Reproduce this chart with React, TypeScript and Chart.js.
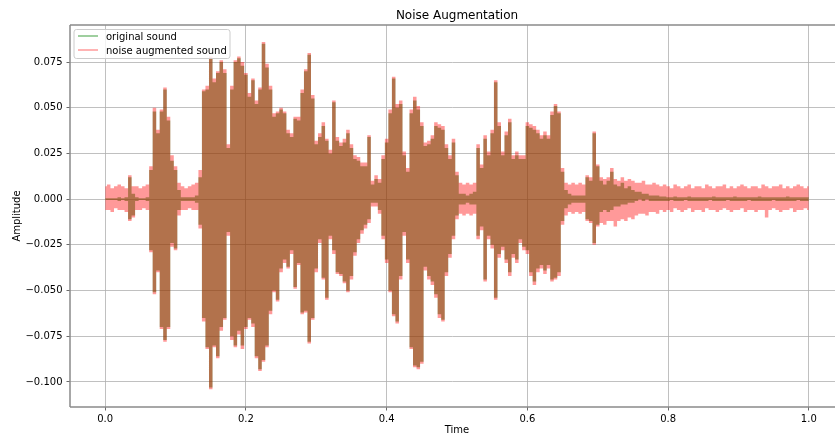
import { useEffect, useRef } from "react";
import { Chart, registerables } from "chart.js";

Chart.register(...registerables);

// Envelope of each waveform, one sample every SAMPLE_STEP of time (0 .. 1.0)
const SAMPLE_STEP = 0.005;

const originalUpper = [
  0.0005, 0.0005, 0.0005, 0.0005, 0.001, 0.0005, 0.001, 0.012, 0.003, 0.001,
  0.0005, 0.0005, 0.001, 0.016, 0.048, 0.036, 0.048, 0.060, 0.043, 0.021,
  0.016, 0.005, 0.001, 0.001, 0.001, 0.001, 0.002, 0.012, 0.059, 0.060,
  0.077, 0.064, 0.069, 0.075, 0.069, 0.028, 0.060, 0.075, 0.077, 0.073,
  0.068, 0.056, 0.065, 0.052, 0.060, 0.085, 0.072, 0.060, 0.045, 0.047,
  0.049, 0.047, 0.036, 0.034, 0.044, 0.043, 0.058, 0.070, 0.079, 0.055,
  0.030, 0.034, 0.040, 0.032, 0.025, 0.053, 0.032, 0.029, 0.031, 0.036,
  0.028, 0.022, 0.021, 0.018, 0.018, 0.034, 0.008, 0.011, 0.009, 0.022,
  0.031, 0.047, 0.066, 0.050, 0.052, 0.024, 0.015, 0.047, 0.054, 0.049,
  0.040, 0.029, 0.030, 0.033, 0.040, 0.039, 0.038, 0.028, 0.022, 0.031,
  0.013, 0.003, 0.003, 0.002, 0.003, 0.004, 0.028, 0.017, 0.033, 0.024,
  0.036, 0.064, 0.040, 0.024, 0.035, 0.042, 0.022, 0.024, 0.022, 0.022,
  0.040, 0.039, 0.038, 0.036, 0.033, 0.035, 0.033, 0.046, 0.051, 0.047,
  0.015, 0.005, 0.003, 0.002, 0.002, 0.002, 0.002, 0.012, 0.010, 0.036,
  0.018, 0.010, 0.008, 0.010, 0.015, 0.008, 0.007, 0.009, 0.006, 0.007,
  0.005, 0.004, 0.004, 0.003, 0.003, 0.002, 0.002, 0.002, 0.0015, 0.0015,
  0.001, 0.001, 0.0015, 0.001, 0.001, 0.001, 0.0015, 0.001, 0.001, 0.001,
  0.001, 0.001, 0.001, 0.0015, 0.001, 0.001, 0.001, 0.001, 0.001, 0.0015,
  0.001, 0.001, 0.001, 0.001, 0.001, 0.001, 0.0015, 0.001, 0.001, 0.001,
  0.001, 0.001, 0.001, 0.001, 0.0015, 0.001, 0.001, 0.001, 0.001, 0.001,
  0.001,
];

const originalLower = [
  -0.0005, -0.0005, -0.0005, -0.0005, -0.001, -0.0005, -0.001, -0.011, -0.009, -0.001,
  -0.0005, -0.0005, -0.001, -0.028, -0.051, -0.039, -0.070, -0.077, -0.070, -0.024,
  -0.027, -0.006, -0.001, -0.001, -0.001, -0.001, -0.002, -0.014, -0.065, -0.081,
  -0.103, -0.080, -0.086, -0.070, -0.065, -0.018, -0.075, -0.080, -0.072, -0.080,
  -0.070, -0.065, -0.068, -0.086, -0.093, -0.088, -0.080, -0.061, -0.050, -0.055,
  -0.038, -0.033, -0.037, -0.028, -0.048, -0.035, -0.062, -0.061, -0.078, -0.065,
  -0.038, -0.022, -0.043, -0.054, -0.020, -0.028, -0.040, -0.041, -0.045, -0.050,
  -0.042, -0.029, -0.022, -0.017, -0.014, -0.011, -0.002, -0.002, -0.006, -0.020,
  -0.033, -0.050, -0.063, -0.067, -0.042, -0.018, -0.033, -0.081, -0.091, -0.092,
  -0.089, -0.037, -0.042, -0.045, -0.052, -0.063, -0.066, -0.040, -0.030, -0.020,
  -0.009, -0.003, -0.003, -0.002, -0.003, -0.003, -0.020, -0.015, -0.044, -0.020,
  -0.025, -0.054, -0.030, -0.026, -0.033, -0.040, -0.030, -0.033, -0.022, -0.026,
  -0.028, -0.040, -0.045, -0.038, -0.036, -0.039, -0.036, -0.044, -0.043, -0.040,
  -0.012, -0.005, -0.003, -0.002, -0.002, -0.002, -0.002, -0.011, -0.012, -0.024,
  -0.014, -0.007, -0.006, -0.007, -0.006, -0.004, -0.004, -0.003, -0.003, -0.002,
  -0.002, -0.001, 0, -0.001, 0, -0.001, -0.001, -0.001, -0.001, -0.001,
  -0.001, -0.0005, -0.001, -0.001, -0.001, -0.0005, -0.001, -0.001, -0.001, -0.001,
  -0.001, -0.001, -0.0005, -0.001, -0.001, -0.001, -0.001, -0.0005, -0.001, -0.001,
  -0.001, -0.001, -0.001, -0.0005, -0.001, -0.001, -0.001, -0.001, -0.001, -0.001,
  -0.0005, -0.001, -0.001, -0.001, -0.001, -0.001, -0.001, -0.0005, -0.001, -0.001,
  -0.001,
];

const noiseUpper = [
  0.007, 0.008, 0.006, 0.007, 0.008, 0.007, 0.006, 0.013, 0.007, 0.007,
  0.006, 0.007, 0.008, 0.018, 0.050, 0.038, 0.049, 0.061, 0.045, 0.024,
  0.018, 0.009, 0.007, 0.006, 0.007, 0.008, 0.009, 0.016, 0.060, 0.062,
  0.078, 0.066, 0.070, 0.076, 0.071, 0.030, 0.062, 0.076, 0.078, 0.075,
  0.069, 0.058, 0.066, 0.054, 0.061, 0.086, 0.074, 0.062, 0.047, 0.048,
  0.050, 0.048, 0.038, 0.036, 0.045, 0.045, 0.060, 0.071, 0.080, 0.057,
  0.032, 0.036, 0.042, 0.033, 0.027, 0.054, 0.034, 0.031, 0.033, 0.038,
  0.030, 0.024, 0.023, 0.020, 0.020, 0.035, 0.010, 0.013, 0.011, 0.024,
  0.033, 0.049, 0.067, 0.052, 0.054, 0.026, 0.017, 0.049, 0.056, 0.051,
  0.042, 0.031, 0.032, 0.035, 0.042, 0.041, 0.040, 0.030, 0.024, 0.033,
  0.015, 0.009, 0.008, 0.009, 0.008, 0.009, 0.030, 0.019, 0.035, 0.026,
  0.038, 0.065, 0.042, 0.026, 0.037, 0.044, 0.024, 0.026, 0.024, 0.024,
  0.042, 0.041, 0.040, 0.038, 0.035, 0.037, 0.035, 0.048, 0.052, 0.048,
  0.017, 0.009, 0.008, 0.009, 0.008, 0.009, 0.008, 0.013, 0.012, 0.037,
  0.019, 0.012, 0.011, 0.012, 0.017, 0.011, 0.010, 0.012, 0.010, 0.011,
  0.010, 0.009, 0.009, 0.010, 0.008, 0.008, 0.009, 0.008, 0.007, 0.008,
  0.007, 0.006, 0.008, 0.007, 0.006, 0.007, 0.008, 0.006, 0.007, 0.007,
  0.006, 0.008, 0.007, 0.006, 0.007, 0.007, 0.008, 0.006, 0.007, 0.006,
  0.007, 0.008, 0.007, 0.006, 0.007, 0.007, 0.006, 0.008, 0.007, 0.006,
  0.007, 0.007, 0.008, 0.006, 0.007, 0.006, 0.007, 0.008, 0.007, 0.006,
  0.007,
];

const noiseLower = [
  -0.006, -0.006, -0.007, -0.005, -0.006, -0.006, -0.007, -0.012, -0.010, -0.006,
  -0.006, -0.005, -0.006, -0.029, -0.052, -0.040, -0.071, -0.078, -0.071, -0.026,
  -0.028, -0.009, -0.006, -0.006, -0.005, -0.006, -0.006, -0.016, -0.067, -0.082,
  -0.104, -0.081, -0.087, -0.072, -0.066, -0.020, -0.077, -0.081, -0.074, -0.082,
  -0.071, -0.066, -0.070, -0.087, -0.094, -0.089, -0.081, -0.063, -0.051, -0.056,
  -0.040, -0.035, -0.038, -0.030, -0.049, -0.036, -0.063, -0.062, -0.079, -0.066,
  -0.040, -0.024, -0.044, -0.055, -0.022, -0.030, -0.041, -0.042, -0.046, -0.051,
  -0.044, -0.031, -0.024, -0.019, -0.016, -0.013, -0.004, -0.004, -0.008, -0.022,
  -0.035, -0.051, -0.064, -0.068, -0.044, -0.020, -0.035, -0.082, -0.092, -0.093,
  -0.090, -0.039, -0.044, -0.047, -0.054, -0.065, -0.067, -0.042, -0.032, -0.022,
  -0.011, -0.008, -0.009, -0.008, -0.009, -0.008, -0.022, -0.017, -0.045, -0.022,
  -0.027, -0.055, -0.032, -0.028, -0.035, -0.042, -0.032, -0.035, -0.024, -0.028,
  -0.030, -0.042, -0.047, -0.040, -0.038, -0.041, -0.038, -0.045, -0.044, -0.042,
  -0.014, -0.009, -0.007, -0.008, -0.007, -0.008, -0.007, -0.012, -0.013, -0.025,
  -0.015, -0.013, -0.014, -0.012, -0.012, -0.015, -0.012, -0.011, -0.012, -0.010,
  -0.011, -0.009, -0.008, -0.008, -0.009, -0.007, -0.007, -0.008, -0.006, -0.007,
  -0.006, -0.007, -0.005, -0.006, -0.007, -0.006, -0.005, -0.007, -0.006, -0.006,
  -0.007, -0.005, -0.006, -0.006, -0.007, -0.006, -0.005, -0.006, -0.007, -0.006,
  -0.006, -0.005, -0.007, -0.006, -0.006, -0.007, -0.006, -0.006, -0.010, -0.006,
  -0.005, -0.006, -0.007, -0.006, -0.006, -0.005, -0.007, -0.006, -0.006, -0.005,
  -0.006,
];

const seriesNames = ["original sound", "noise augmented sound"];
const timeTicks = [0, 0.2, 0.4, 0.6, 0.8, 1.0];
const amplitudeTicks = [-0.1, -0.075, -0.05, -0.025, 0, 0.025, 0.05, 0.075];
const TITLE = "Noise Augmentation";
const X_LABEL = "Time";
const Y_LABEL = "Amplitude";

const X_MIN = -0.05;
const X_MAX = 1.0372;
const Y_MIN = -0.1137;
const Y_MAX = 0.09525;

const ORIGINAL_COLOR = "rgba(0,128,0,0.5)";
const NOISE_COLOR = "rgba(255,0,0,0.4)";
const FONT = '"DejaVu Sans", sans-serif';

const toPoints = (arr: number[]) =>
  arr.map((v, i) => ({ x: Math.round(i * SAMPLE_STEP * 10000) / 10000, y: v }));

const minus = (s: string) => s.replace("-", "\u2212");

const decorPlugin = {
  id: "decor",
  afterDraw(chart: any) {
    const { ctx, chartArea, scales } = chart;
    const xs = scales.x;
    const cx = xs.getPixelForValue(0.5);
    ctx.save();
    // spines
    ctx.strokeStyle = "#8a8a8a";
    ctx.lineWidth = 1.5;
    ctx.beginPath();
    ctx.moveTo(chartArea.left, chartArea.top);
    ctx.lineTo(chartArea.left, chartArea.bottom);
    ctx.moveTo(chartArea.left, chartArea.bottom);
    ctx.lineTo(chartArea.right, chartArea.bottom);
    ctx.moveTo(chartArea.left, chartArea.top);
    ctx.lineTo(chartArea.right, chartArea.top);
    ctx.stroke();

    ctx.fillStyle = "#000";
    ctx.textAlign = "center";
    ctx.textBaseline = "alphabetic";
    ctx.font = `12px ${FONT}`;
    ctx.fillText(TITLE, cx, 19);
    ctx.font = `10px ${FONT}`;
    ctx.fillText(X_LABEL, cx, 433);
    ctx.save();
    ctx.translate(19.5, (chartArea.top + chartArea.bottom) / 2);
    ctx.rotate(-Math.PI / 2);
    ctx.fillText(Y_LABEL, 0, 0);
    ctx.restore();

    // legend
    const bx = 74, by = 29.5, bw = 156, bh = 29, r = 2.5;
    ctx.beginPath();
    ctx.moveTo(bx + r, by);
    ctx.lineTo(bx + bw - r, by);
    ctx.arcTo(bx + bw, by, bx + bw, by + r, r);
    ctx.lineTo(bx + bw, by + bh - r);
    ctx.arcTo(bx + bw, by + bh, bx + bw - r, by + bh, r);
    ctx.lineTo(bx + r, by + bh);
    ctx.arcTo(bx, by + bh, bx, by + bh - r, r);
    ctx.lineTo(bx, by + r);
    ctx.arcTo(bx, by, bx + r, by, r);
    ctx.closePath();
    ctx.fillStyle = "rgba(255,255,255,0.8)";
    ctx.fill();
    ctx.strokeStyle = "#cccccc";
    ctx.lineWidth = 1;
    ctx.stroke();

    const rows = [
      { name: seriesNames[0], color: ORIGINAL_COLOR, y: 36 },
      { name: seriesNames[1], color: NOISE_COLOR, y: 50 },
    ];
    ctx.textAlign = "left";
    ctx.font = `10px ${FONT}`;
    rows.forEach((row) => {
      ctx.strokeStyle = row.color;
      ctx.lineWidth = 1.5;
      ctx.beginPath();
      ctx.moveTo(78, row.y);
      ctx.lineTo(98, row.y);
      ctx.stroke();
      ctx.fillStyle = "#000";
      ctx.fillText(row.name, 106, row.y + 3.6);
    });
    ctx.restore();
  },
};

export default function App() {
  const canvasRef = useRef<HTMLCanvasElement | null>(null);

  useEffect(() => {
    if (!canvasRef.current) return;
    const envelope = (
      label: string,
      data: number[],
      fill: any,
      color: string
    ) => ({
      label,
      data: toPoints(data),
      fill,
      backgroundColor: color,
      borderColor: "rgba(0,0,0,0)",
      borderWidth: 0,
      pointRadius: 0,
      pointHoverRadius: 0,
      stepped: "middle",
    });

    const chart = new Chart(canvasRef.current, {
      type: "line",
      data: {
        datasets: [
          envelope(seriesNames[1], noiseUpper, "+1", NOISE_COLOR),
          envelope(seriesNames[1] + " (lower)", noiseLower, false, NOISE_COLOR),
          envelope(seriesNames[0], originalUpper, "+1", ORIGINAL_COLOR),
          envelope(seriesNames[0] + " (lower)", originalLower, false, ORIGINAL_COLOR),
        ],
      },
      options: {
        animation: false,
        responsive: false,
        devicePixelRatio: 1,
        layout: { padding: { top: 25, left: 0, right: 0, bottom: 0 } },
        plugins: {
          legend: { display: false },
          tooltip: { enabled: false },
          title: { display: false },
        },
        scales: {
          x: {
            type: "linear",
            min: X_MIN,
            max: X_MAX,
            afterBuildTicks: (s: any) => {
              s.ticks = timeTicks.map((v) => ({ value: v }));
            },
            afterFit: (s: any) => {
              s.height = 29;
            },
            ticks: {
              callback: (v: any) => minus(Number(v).toFixed(1)),
              font: { family: FONT, size: 10 },
              color: "#000",
              padding: 3,
              maxRotation: 0,
              autoSkip: false,
            },
            grid: {
              color: "#b0b0b0",
              lineWidth: 0.8,
              tickLength: 3.5,
              tickColor: "#444",
              tickWidth: 0.8,
            },
            border: { display: false },
          },
          y: {
            type: "linear",
            min: Y_MIN,
            max: Y_MAX,
            afterBuildTicks: (s: any) => {
              s.ticks = amplitudeTicks.map((v) => ({ value: v }));
            },
            afterFit: (s: any) => {
              s.width = 70;
            },
            ticks: {
              callback: (v: any) => minus(Number(v).toFixed(3)),
              font: { family: FONT, size: 10 },
              color: "#000",
              padding: 4,
              autoSkip: false,
            },
            grid: {
              color: "#b0b0b0",
              lineWidth: 0.8,
              tickLength: 3.5,
              tickColor: "#444",
              tickWidth: 0.8,
            },
            border: { display: false },
          },
        },
      },
      plugins: [decorPlugin],
    });
    return () => chart.destroy();
  }, []);

  return (
    <div
      style={{
        position: "fixed",
        left: 0,
        top: 0,
        width: 835,
        height: 436,
        background: "#fff",
      }}
    >
      <canvas
        ref={canvasRef}
        width={835}
        height={436}
        style={{ display: "block", width: 835, height: 436 }}
      />
    </div>
  );
}
